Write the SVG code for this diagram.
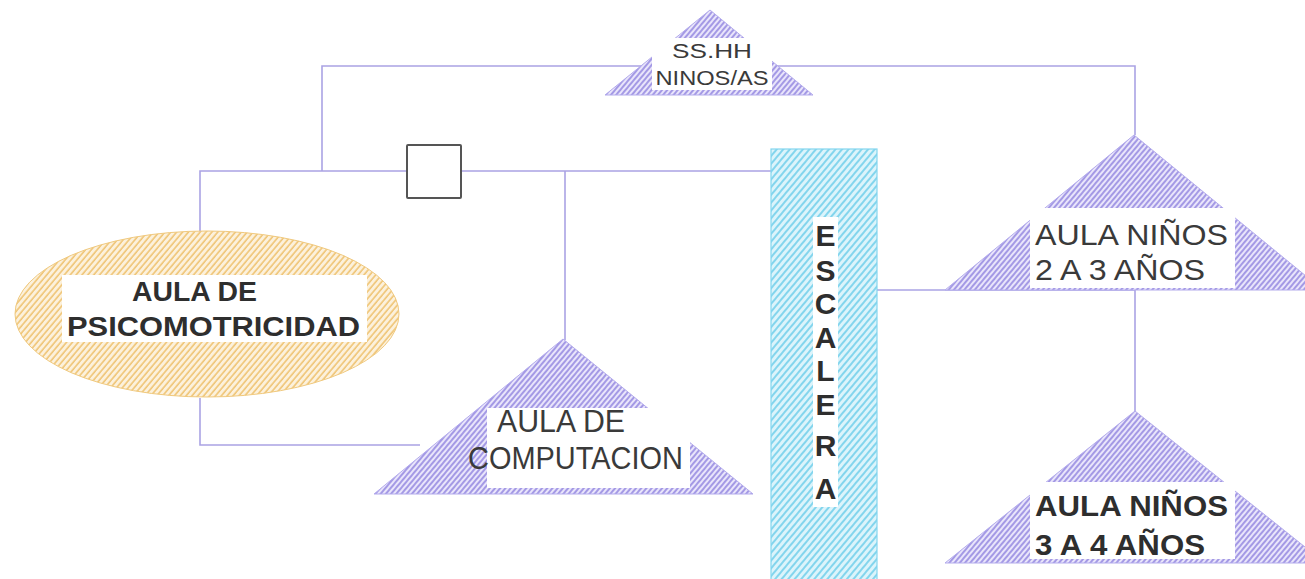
<svg xmlns="http://www.w3.org/2000/svg" width="1305" height="579" viewBox="0 0 1305 579">
<defs>
<pattern id="hp" width="4" height="4" patternUnits="userSpaceOnUse" patternTransform="rotate(40)">
<rect width="4" height="4" fill="#e9e5fb"/>
<line x1="1" y1="0" x2="1" y2="4" stroke="#988ce2" stroke-width="1.7"/>
</pattern>
<pattern id="ho" width="4.5" height="4.5" patternUnits="userSpaceOnUse" patternTransform="rotate(40)">
<rect width="4.5" height="4.5" fill="#fcf1dc"/>
<line x1="1" y1="0" x2="1" y2="4.5" stroke="#efc26e" stroke-width="1.5"/>
</pattern>
<pattern id="hc" width="5" height="5" patternUnits="userSpaceOnUse" patternTransform="rotate(40)">
<rect width="5" height="5" fill="#dcf4fb"/>
<line x1="1" y1="0" x2="1" y2="5" stroke="#79d2ec" stroke-width="1.8"/>
</pattern>
</defs>
<style>
.con{fill:none;stroke:#aaa3e4;stroke-width:1.6}
.tri{fill:url(#hp);stroke:#b3abec;stroke-width:1}
.lbl{fill:#fff}
.t{font-family:"Liberation Sans",Arial,sans-serif;fill:#3a3a3a}
.b{font-weight:bold;fill:#2e2e2e}
</style>
<rect width="1305" height="579" fill="#fff"/>
<g id="connectors">
<path class="con" d="M322 171 V66 H1135 V135"/>
<path class="con" d="M200 232 V171 H771"/>
<path class="con" d="M565 171 V340"/>
<path class="con" d="M200 398 V445 H420"/>
<path class="con" d="M877 290 H1135"/>
<path class="con" d="M1135 290 V412"/>
</g>
<g id="sshh">
<polygon class="tri" points="710,10 605,95 813,95"/>
<rect class="lbl" x="652" y="38" width="120" height="52"/>
<text class="t" x="712" y="58" font-size="20" text-anchor="middle" textLength="80" lengthAdjust="spacingAndGlyphs">SS.HH</text>
<text class="t" x="712" y="85" font-size="21" text-anchor="middle" textLength="113" lengthAdjust="spacingAndGlyphs">NINOS/AS</text>
</g>
<g id="box">
<rect x="407" y="145" width="54" height="53" fill="#fff" stroke="#555" stroke-width="2" rx="1"/>
</g>
<g id="psicomotricidad">
<ellipse cx="207" cy="314" rx="192" ry="83" fill="url(#ho)" stroke="#f0c97e" stroke-width="1"/>
<rect class="lbl" x="62" y="275" width="305" height="67"/>
<text class="t b" x="132" y="301" font-size="27" textLength="125" lengthAdjust="spacingAndGlyphs">AULA DE</text>
<text class="t b" x="67" y="336" font-size="27" textLength="293" lengthAdjust="spacingAndGlyphs">PSICOMOTRICIDAD</text>
</g>
<g id="computacion">
<polygon class="tri" points="563,339 374,494 753,494"/>
<rect class="lbl" x="487" y="408" width="203" height="80"/>
<text class="t" x="497" y="432" font-size="31" textLength="128" lengthAdjust="spacingAndGlyphs">AULA DE</text>
<text class="t" x="468" y="469" font-size="31" textLength="215" lengthAdjust="spacingAndGlyphs">COMPUTACION</text>
</g>
<g id="escalera">
<rect x="771" y="149" width="106" height="432" fill="url(#hc)" stroke="#84d6ee" stroke-width="1.2"/>
<rect class="lbl" x="813" y="217" width="25" height="290"/>
<g class="t b" font-size="30" text-anchor="middle" fill="#444">
<text x="825.5" y="246">E</text>
<text x="825.5" y="281">S</text>
<text x="825.5" y="314">C</text>
<text x="825.5" y="348">A</text>
<text x="825.5" y="381">L</text>
<text x="825.5" y="415">E</text>
<text x="825.5" y="456">R</text>
<text x="825.5" y="499">A</text>
</g>
</g>
<g id="aula23">
<polygon class="tri" points="1134,135 945,290 1323,290"/>
<rect class="lbl" x="1030" y="208" width="205" height="80"/>
<text class="t" x="1035" y="245" font-size="30" textLength="193" lengthAdjust="spacingAndGlyphs">AULA NIÑOS</text>
<text class="t" x="1035" y="280" font-size="30" textLength="170" lengthAdjust="spacingAndGlyphs">2 A 3 AÑOS</text>
</g>
<g id="aula34">
<polygon class="tri" points="1135,411 945,563 1325,563"/>
<rect class="lbl" x="1030" y="482" width="205" height="77"/>
<text class="t b" x="1035" y="516" font-size="29" textLength="193" lengthAdjust="spacingAndGlyphs">AULA NIÑOS</text>
<text class="t b" x="1035" y="555" font-size="29" textLength="170" lengthAdjust="spacingAndGlyphs">3 A 4 AÑOS</text>
</g>
</svg>
